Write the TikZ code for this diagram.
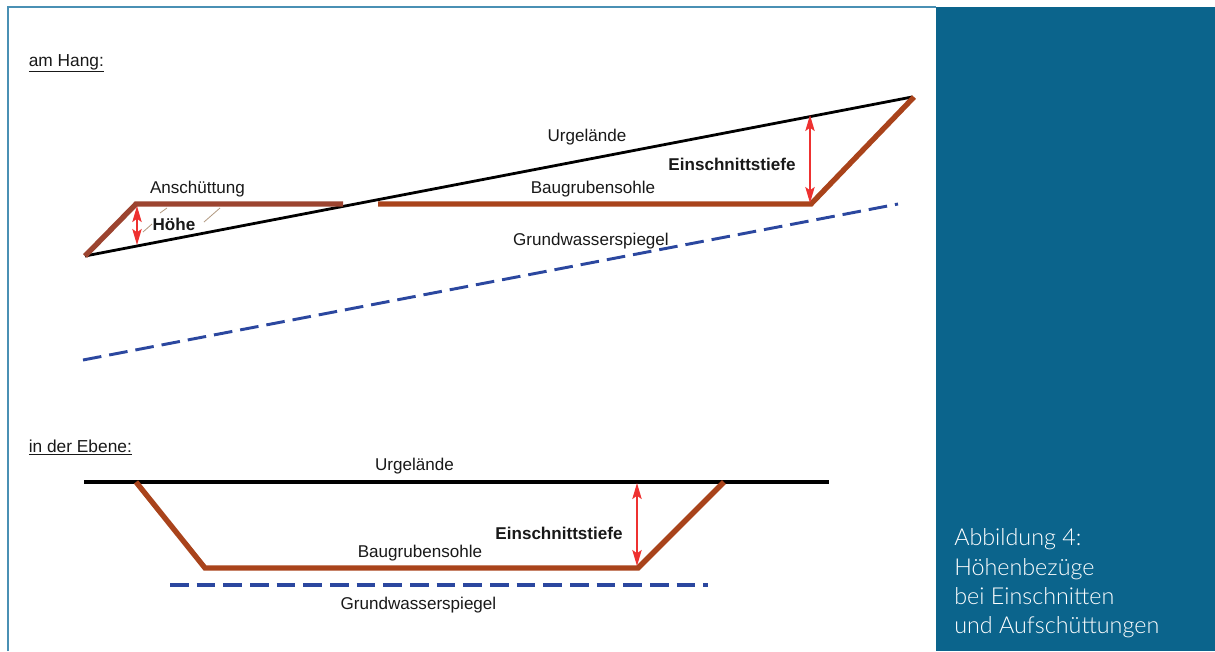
\documentclass[tikz,border=0pt]{standalone}
\usepackage{fontspec}
\setmainfont{Liberation Sans}
\newfontfamily\capfont{Lato Light}
\usetikzlibrary{arrows.meta}
\definecolor{panelblue}{HTML}{0B648C}
\definecolor{framecol}{HTML}{4A90B4}
\definecolor{soil}{HTML}{A9431B}
\definecolor{soildark}{HTML}{9C4430}
\definecolor{water}{HTML}{2B479F}
\definecolor{redarrow}{HTML}{EE3130}
\tikzset{
  lbl/.style={font=\fontsize{12.8pt}{15pt}\selectfont, text=black!90, inner sep=0pt},
  headlbl/.style={font=\fontsize{13pt}{15pt}\selectfont, text=black!90, inner sep=0pt},
  boldlbl/.style={lbl, font=\fontsize{12.8pt}{15pt}\selectfont\bfseries},
  groundline/.style={draw=black, line width=2.1pt},
  cutline/.style={draw=soil, line width=4pt, line join=miter},
  fillline/.style={draw=soildark, line width=4pt, line join=miter},
  waterline/.style={draw=water, line width=2.2pt, dash pattern=on 14pt off 6pt},
  measure/.style={draw=redarrow, line width=1.4pt, {Stealth[length=12pt,width=7pt,inset=2.5pt]}-{Stealth[length=12pt,width=7pt,inset=2.5pt]}},
  faint/.style={draw=black!35!brown!60, line width=.6pt},
  caption/.style={font=\capfont\fontsize{17.5pt}{21.9pt}\selectfont, text=white, align=left, inner sep=0pt, anchor=south west},
}
\begin{document}
\begin{tikzpicture}[x=0.75pt,y=-0.75pt]
\useasboundingbox (0,0) rectangle (1215,651);
\fill[white] (0,0) rectangle (1215,651);
\coordinate (fa) at (8,651); \coordinate (fb) at (8,7); \coordinate (fc) at (936,7);
\draw[framecol,line width=1.2pt] (fa) -- (fb) -- (fc);
\fill[panelblue] (936,7) rectangle (1215,651);
\node[caption] (cap) at (954,638) {Abbildung 4:\\Höhenbezüge\\bei Einschnitten\\und Aufschüttungen};

% am Hang
\node[headlbl,anchor=base west] (h1) at (28.5,66) {\underline{am Hang:}};
\coordinate (ul) at (85,256); \coordinate (ur) at (912,97);
\coordinate (fl) at (85,256); \coordinate (ft) at (136,204); \coordinate (fr) at (343,204);
\coordinate (cl) at (378,204); \coordinate (cm) at (811,204); \coordinate (ct) at (914,97);
\coordinate (wl) at (83,360); \coordinate (wr) at (898,204);
\draw[groundline] (ul) -- (ur);
\draw[fillline] (fl) -- (ft) -- (fr);
\draw[cutline] (cl) -- (cm) -- (ct);
\draw[waterline] (wl) -- (wr);
\coordinate (s1) at (143,232); \coordinate (s2) at (152,224);
\coordinate (s3) at (160,213); \coordinate (s4) at (167,208);
\coordinate (s5) at (204,222); \coordinate (s6) at (220,208);
\draw[faint] (s1) -- (s2);
\draw[faint] (s3) -- (s4);
\draw[faint] (s5) -- (s6);
\coordinate (ma) at (137,206); \coordinate (mb) at (137,245);
\draw[measure] (ma) -- (mb);
\coordinate (mc) at (810,115); \coordinate (md) at (810,203);
\draw[measure] (mc) -- (md);
\node[lbl,anchor=base] (t1) at (197.5,193) {Anschüttung};
\node[boldlbl,anchor=base] (t2) at (174,230) {Höhe};
\node[lbl,anchor=base] (t3) at (587,141) {Urgelände};
\node[boldlbl,anchor=base] (t4) at (732,170) {Einschnittstiefe};
\node[lbl,anchor=base] (t5) at (593,193) {Baugrubensohle};
\node[lbl,anchor=base] (t6) at (591,245) {Grundwasserspiegel};

% in der Ebene
\node[headlbl,anchor=base west] (h2) at (28.5,452) {\underline{in der Ebene:}};
\coordinate (gl) at (84,482); \coordinate (gr) at (829,482);
\coordinate (pa) at (136,482); \coordinate (pb) at (205,568); \coordinate (pc) at (638,568); \coordinate (pd) at (724,482);
\coordinate (wa) at (170,585); \coordinate (wb) at (708,585);
\draw[groundline,line width=2.3pt] (gl) -- (gr);
\draw[cutline] (pa) -- (pb) -- (pc) -- (pd);
\draw[waterline,line width=2.4pt] (wa) -- (wb);
\coordinate (me) at (637,483); \coordinate (mf) at (637,566);
\draw[measure] (me) -- (mf);
\node[lbl,anchor=base] (t7) at (414.5,470) {Urgelände};
\node[boldlbl,anchor=base] (t8) at (559,539) {Einschnittstiefe};
\node[lbl,anchor=base] (t9) at (420,557) {Baugrubensohle};
\node[lbl,anchor=base] (t10) at (418.5,609) {Grundwasserspiegel};
\end{tikzpicture}
\end{document}
